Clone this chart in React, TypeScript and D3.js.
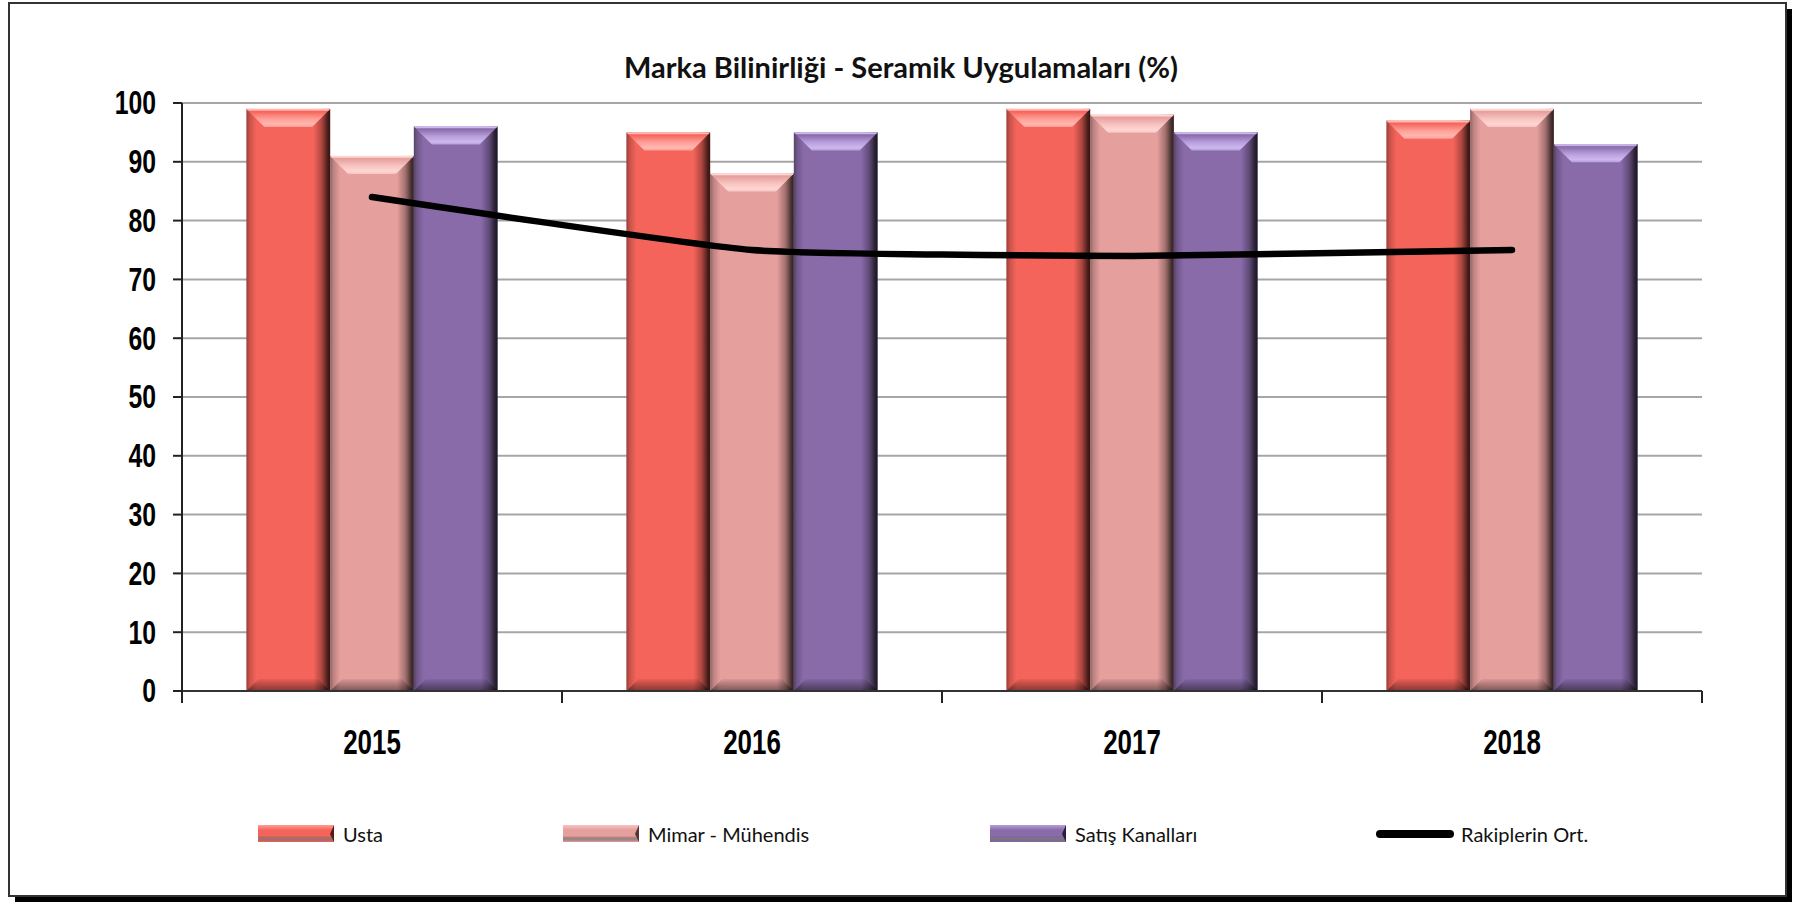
import React from 'react';
import * as d3 from 'd3';

const title = 'Marka Bilinirliği - Seramik Uygulamaları (%)';
const categories = ['2015', '2016', '2017', '2018'];
const seriesNames = ['Usta', 'Mimar - Mühendis', 'Satış Kanalları'];
const ustaValues = [99, 95, 99, 97];
const mimarValues = [91, 88, 98, 99];
const satisValues = [96, 95, 95, 93];
const lineName = 'Rakiplerin Ort.';
const rakipValues = [84, 75, 74, 75];
const yTickValues = [0, 10, 20, 30, 40, 50, 60, 70, 80, 90, 100];

const palette = [
  { base: '#F5645A', top: '#FF9E96', light: '#FFB8B1', dark: '#5A1A16' },
  { base: '#E59F9D', top: '#F8C3C0', light: '#FFD6D3', dark: '#553434' },
  { base: '#896BAA', top: '#B89FDC', light: '#CDB8EE', dark: '#2A1E3A' },
];

const W = 1797;
const H = 904;
const plot = { left: 182, right: 1702, top: 103, bottom: 691 };

export default function App() {
  const x = d3.scaleBand<string>().domain(categories).range([plot.left, plot.right]).padding(0);
  const inner = d3
    .scaleBand<string>()
    .domain(seriesNames)
    .range([0, x.bandwidth()])
    .paddingInner(0)
    .paddingOuter(0.77);
  const y = d3.scaleLinear().domain([0, 100]).range([plot.bottom, plot.top]);
  const seriesValues = [ustaValues, mimarValues, satisValues];

  const linePath = d3
    .line<number>()
    .x((_, i) => (x(categories[i]) as number) + x.bandwidth() / 2)
    .y((d) => y(d))
    .curve(d3.curveCardinal.tension(0.55))(rakipValues) as string;

  const bars: JSX.Element[] = [];
  seriesValues.forEach((vals, si) => {
    vals.forEach((v, ci) => {
      const bx = (x(categories[ci]) as number) + (inner(seriesNames[si]) as number);
      const bw = inner.bandwidth();
      const by = y(v);
      const bh = y(0) - by;
      const d = 18;
      const db = 12;
      const c = palette[si];
      bars.push(
        <g key={`b-${si}-${ci}`}>
          <rect x={bx} y={by} width={bw} height={bh} fill={c.base} />
          <rect x={bx} y={by} width={bw} height={bh} fill="url(#sideShade)" />
          <polygon
            points={`${bx},${y(0)} ${bx + bw},${y(0)} ${bx + bw - db},${y(0) - db} ${bx + db},${y(0) - db}`}
            fill="url(#bottomShade)"
          />
          <polygon
            points={`${bx},${by} ${bx + bw},${by} ${bx + bw - d},${by + d} ${bx + d},${by + d}`}
            fill={`url(#topGrad${si})`}
          />
          <line x1={bx + 1} x2={bx + bw - 1} y1={by + 0.8} y2={by + 0.8} stroke={c.light} strokeWidth={1.5} />
        </g>
      );
    });
  });

  const legendItems = [
    { x: 258, label: seriesNames[0], kind: 0 },
    { x: 563, label: seriesNames[1], kind: 1 },
    { x: 990, label: seriesNames[2], kind: 2 },
    { x: 1376, label: lineName, kind: 3 },
  ];
  const legendY = 834;
  const narrowFont = "'Liberation Sans', Arial, sans-serif";

  return (
    <svg
      width={W}
      height={H}
      style={{ position: 'absolute', left: 0, top: 0, display: 'block', background: '#fff' }}
    >
      <defs>
        <linearGradient id="sideShade" x1="0" x2="1" y1="0" y2="0">
          <stop offset="0" stopColor="#000" stopOpacity="0.38" />
          <stop offset="0.04" stopColor="#000" stopOpacity="0.18" />
          <stop offset="0.12" stopColor="#000" stopOpacity="0" />
          <stop offset="0.8" stopColor="#000" stopOpacity="0" />
          <stop offset="0.9" stopColor="#000" stopOpacity="0.3" />
          <stop offset="0.97" stopColor="#000" stopOpacity="0.7" />
          <stop offset="1" stopColor="#000" stopOpacity="0.8" />
        </linearGradient>
        <linearGradient id="bottomShade" x1="0" x2="0" y1="0" y2="1">
          <stop offset="0" stopColor="#000" stopOpacity="0.05" />
          <stop offset="0.6" stopColor="#000" stopOpacity="0.3" />
          <stop offset="1" stopColor="#000" stopOpacity="0.45" />
        </linearGradient>
        {palette.map((c, i) => (
          <linearGradient key={i} id={`topGrad${i}`} x1="0" x2="0" y1="0" y2="1">
            <stop offset="0" stopColor={c.light} />
            <stop offset="0.15" stopColor={c.base} />
            <stop offset="0.55" stopColor={c.top} />
            <stop offset="0.85" stopColor={c.light} />
            <stop offset="1" stopColor={c.top} />
          </linearGradient>
        ))}
        {palette.map((c, i) => (
          <linearGradient key={`l${i}`} id={`legGrad${i}`} x1="0" x2="0" y1="0" y2="1">
            <stop offset="0" stopColor={c.top} />
            <stop offset="0.3" stopColor={c.base} />
            <stop offset="0.65" stopColor={c.base} />
            <stop offset="0.8" stopColor={c.dark} stopOpacity="0.6" />
            <stop offset="1" stopColor={c.base} />
          </linearGradient>
        ))}
      </defs>

      {/* frame with shadow */}
      <rect x={15} y={9} width={1777} height={893} fill="#000" />
      <rect x={9} y={3} width={1777} height={893} fill="#fff" stroke="#333" strokeWidth={2} />

      {/* title */}
      <text
        x={901}
        y={66}
        textAnchor="middle"
        dominantBaseline="central"
        fontFamily="Lato, 'Open Sans', sans-serif"
        fontWeight={700}
        fontSize={29}
        fill="#111"
      >
        {title}
      </text>

      {/* grid */}
      {yTickValues
        .filter((t) => t !== 0)
        .map((t) => (
          <line key={`g${t}`} x1={plot.left} x2={plot.right} y1={y(t)} y2={y(t)} stroke="#a6a6a6" strokeWidth={2} />
        ))}

      {bars}

      {/* line */}
      <path d={linePath} fill="none" stroke="#000" strokeWidth={6.5} strokeLinecap="round" strokeLinejoin="round" />

      {/* axes */}
      <line x1={plot.left} x2={plot.right} y1={y(0)} y2={y(0)} stroke="#333" strokeWidth={2} />
      <line x1={plot.left} x2={plot.left} y1={y(100)} y2={y(0) + 12} stroke="#222" strokeWidth={2} />
      {yTickValues.map((t) => (
        <g key={`yt${t}`}>
          <line x1={plot.left - 9} x2={plot.left} y1={y(t)} y2={y(t)} stroke="#222" strokeWidth={2} />
          <text
            transform={`translate(156,${y(t)}) scale(0.75,1)`}
            textAnchor="end"
            dominantBaseline="central"
            fontFamily={narrowFont}
            fontWeight={700}
            fontSize={33}
            fill="#000"
          >
            {t}
          </text>
        </g>
      ))}
      {[...categories.map((c) => x(c) as number), plot.right].map((px, i) => (
        <line key={`xt${i}`} x1={px} x2={px} y1={y(0)} y2={y(0) + 12} stroke="#222" strokeWidth={2} />
      ))}
      {categories.map((c) => (
        <text
          key={`xl${c}`}
          transform={`translate(${(x(c) as number) + x.bandwidth() / 2},742) scale(0.72,1)`}
          textAnchor="middle"
          dominantBaseline="central"
          fontFamily={narrowFont}
          fontWeight={700}
          fontSize={36}
          fill="#000"
        >
          {c}
        </text>
      ))}

      {/* legend */}
      {legendItems.map((it) => (
        <g key={`lg${it.kind}`}>
          {it.kind < 3 ? (
            <g>
              <rect x={it.x} y={legendY - 9} width={76} height={17} fill={`url(#legGrad${it.kind})`} />
              <polygon
                points={`${it.x + 76},${legendY - 9} ${it.x + 76},${legendY + 8} ${it.x + 72},${legendY}`}
                fill={palette[it.kind].dark}
              />
            </g>
          ) : (
            <line x1={it.x + 4} x2={it.x + 74} y1={legendY} y2={legendY} stroke="#000" strokeWidth={8} strokeLinecap="round" />
          )}
          <text
            x={it.x + 85}
            y={legendY}
            dominantBaseline="central"
            fontFamily="Lato, 'Open Sans', sans-serif"
            fontSize={20}
            fill="#111"
          >
            {it.label}
          </text>
        </g>
      ))}
    </svg>
  );
}
